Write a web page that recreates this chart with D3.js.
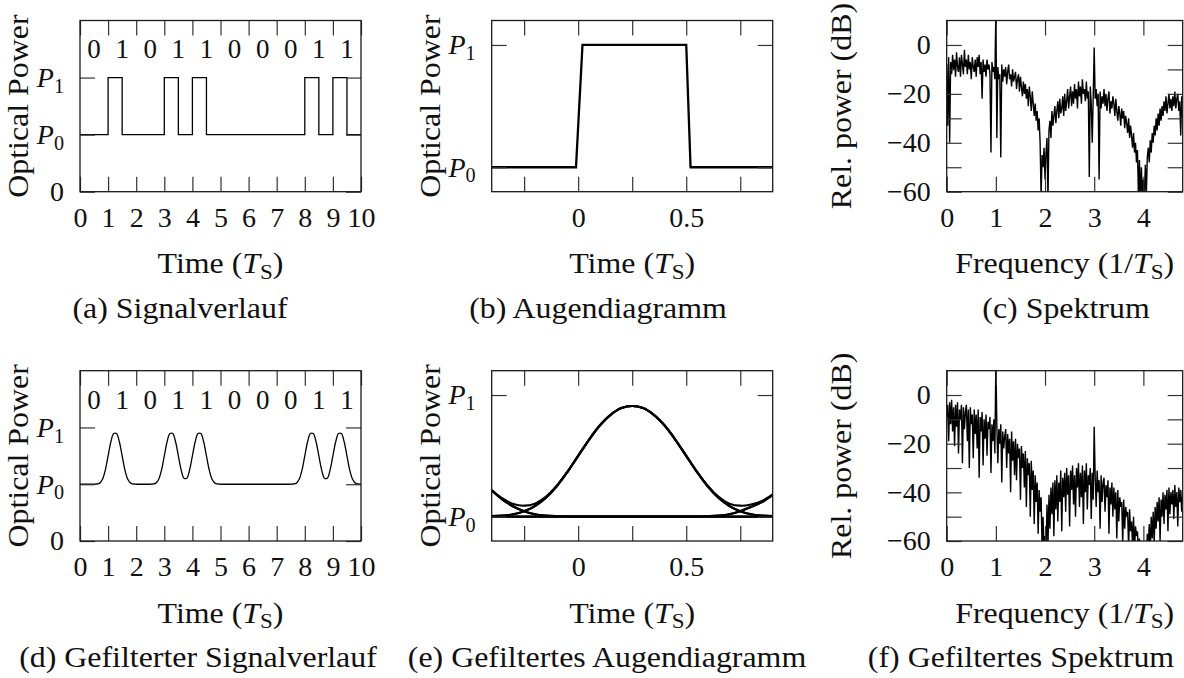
<!DOCTYPE html>
<html>
<head>
<meta charset="utf-8">
<script src="https://cdn.jsdelivr.net/npm/d3@7"></script>
<style>
  body { margin: 0; background: #fff; }
  svg { display: block; }
  text { font-family: "Liberation Serif", "Times New Roman", serif; fill: #111; }
  .axis text { font-size: 28px; fill: #111; }
  .axis line { stroke: #333; stroke-width: 1.2; }
</style>
</head>
<body>
<div id="figure"></div>
<script>
// ---- data ----
const bits = [0, 1, 0, 1, 1, 0, 0, 0, 1, 1]
const timeTicks = [0, 1, 2, 3, 4, 5, 6, 7, 8, 9, 10]
const powerTicks = [0, 1, 2]          // 0, P0, P1
const eyePowerTicks = [1, 2]          // P0, P1
const eyeTicks = [-0.25, 0, 0.25, 0.5, 0.75]
const eyeTickLabels = [0, 0.5]
const freqTicks = [0, 1, 2, 3, 4]
const dbTicks = [-60, -50, -40, -30, -20, -10, 0]
const dbTickLabels = [-60, -40, -20, 0]

// unfiltered eye: one RZ pulse (times in T_S, power in units of P0)
const rawEyeTime = [-0.4, -0.01, 0.02, 0.5, 0.52, 0.9]
const rawEyePower = [1, 1, 2, 2, 1, 1]

// filtered signal, sampled every 0.1 T_S from 0 to 10
const filteredStep = 0.1
const filteredPower = [
  1, 1, 1, 1, 1, 1, 1.004, 1.020, 1.087, 1.248,
  1.5, 1.749, 1.893, 1.893, 1.749, 1.5, 1.248, 1.087, 1.020, 1.004,
  1, 1, 1, 1, 1, 1, 1.004, 1.020, 1.087, 1.248,
  1.5, 1.749, 1.893, 1.893, 1.749, 1.5, 1.252, 1.107, 1.107, 1.252,
  1.5, 1.749, 1.893, 1.893, 1.749, 1.5, 1.248, 1.087, 1.020, 1.004,
  1, 1, 1, 1, 1, 1, 1, 1, 1, 1,
  1, 1, 1, 1, 1, 1, 1, 1, 1, 1,
  1, 1, 1, 1, 1, 1, 1.004, 1.020, 1.087, 1.248,
  1.5, 1.749, 1.893, 1.893, 1.749, 1.5, 1.252, 1.107, 1.107, 1.252,
  1.5, 1.749, 1.893, 1.893, 1.749, 1.5, 1.248, 1.087, 1.020, 1.004,
  1
]

// filtered eye: window -0.4 .. 0.9 T_S, every 0.05 T_S
const eyeStart = -0.4
const eyeStep = 0.05
const eyePulse = [
  0.004, 0.009, 0.020, 0.045, 0.087, 0.154, 0.248, 0.367, 0.5, 0.632,
  0.749, 0.837, 0.893, 0.91, 0.893, 0.837, 0.749, 0.632, 0.5, 0.367,
  0.248, 0.154, 0.087, 0.045, 0.020, 0.009, 0.004
]
const eyePrevTail = [
  0.215, 0.14, 0.084, 0.045, 0.020, 0.009, 0.004, 0.001, 0, 0,
  0, 0, 0, 0, 0, 0, 0, 0, 0, 0,
  0, 0, 0, 0, 0, 0, 0
]
const eyeNextTail = [
  0, 0, 0, 0, 0, 0, 0, 0, 0, 0,
  0, 0, 0, 0, 0, 0, 0, 0, 0, 0.001,
  0.004, 0.009, 0.020, 0.045, 0.080, 0.12, 0.18
]

// spectra in dB, every 0.02/T_S from 0 to 4.8
const freqStep = 0.02
const spectrumDb = [
  -8, -33, -5, -40, -7, -12, -4, -10, -6, -13,
  -3, -9, -11, -5, -13, -4, -8, -12, -2, -9,
  -6, -12, -4, -10, -7, -14, -5, -9, -11, -6,
  -13, -5, -9, -4, -12, -7, -22, -6, -11, -8,
  -13, -6, -10, -8, -12, -44, -7, -11, -9, -14,
  15, -38, -9, -14, -12, -46, -8, -15, -10, -13,
  -9, -16, -11, -8, -14, -12, -17, -10, -15, -13,
  -11, -18, -14, -12, -19, -13, -17, -21, -15, -20,
  -16, -22, -18, -25, -17, -21, -27, -19, -24, -29,
  -24, -31, -27, -35, -30, -40, -62, -45, -50, -42,
  -55, -44, -38, -63, -35, -31, -38, -27, -33, -29,
  -25, -32, -27, -23, -30, -22, -28, -26, -21, -29,
  -20, -27, -23, -18, -26, -21, -17, -25, -19, -24,
  -16, -22, -18, -26, -15, -21, -17, -24, -14, -20,
  -18, -23, -15, -22, -19, -54, -17, -24, -40, -21,
  -1, -22, -18, -25, -20, -55, -19, -26, -21, -24,
  -18, -25, -20, -27, -22, -19, -28, -23, -26, -21,
  -24, -29, -22, -27, -31, -25, -28, -33, -26, -30,
  -27, -34, -29, -32, -36, -30, -38, -33, -37, -42,
  -36, -44, -40, -48, -43, -62, -47, -64, -50, -61,
  -55, -63, -49, -61, -46, -42, -48, -39, -44, -36,
  -40, -33, -37, -30, -35, -28, -33, -26, -31, -25,
  -29, -23, -27, -21, -28, -24, -20, -26, -22, -27,
  -21, -25, -19, -26, -22, -20, -27, -23, -37, -21,
  -24
]
const filteredSpectrumDb = [
  -9, -4, -19, -3, -12, -2, -15, -5, -21, -4,
  -13, -3, -24, -6, -10, -4, -28, -5, -14, -7,
  -4, -19, -6, -30, -5, -12, -8, -26, -6, -16,
  -8, -22, -6, -34, -9, -15, -7, -29, -10, -18,
  -8, -25, -11, -14, -9, -32, -12, -19, -10, -24,
  15, -13, -28, -14, -20, -12, -36, -15, -22, -17,
  -14, -30, -16, -24, -18, -40, -15, -27, -19, -33,
  -18, -35, -20, -26, -22, -43, -21, -30, -24, -38,
  -23, -46, -26, -33, -28, -50, -27, -39, -31, -53,
  -33, -44, -36, -57, -39, -48, -42, -63, -50, -65,
  -58, -64, -45, -62, -41, -55, -38, -49, -36, -58,
  -35, -47, -33, -52, -36, -44, -31, -56, -34, -42,
  -32, -48, -30, -41, -33, -54, -31, -39, -29, -45,
  -33, -50, -30, -38, -28, -46, -32, -42, -29, -53,
  -31, -40, -28, -47, -33, -37, -30, -51, -32, -43,
  -13, -34, -46, -31, -40, -35, -55, -33, -44, -36,
  -34, -48, -37, -42, -35, -57, -38, -45, -36, -50,
  -38, -47, -40, -59, -39, -52, -42, -46, -44, -61,
  -43, -55, -46, -50, -48, -63, -47, -56, -52, -62,
  -50, -64, -54, -58, -56, -66, -59, -63, -62, -70,
  -67, -65, -61, -68, -57, -62, -53, -64, -50, -59,
  -48, -61, -46, -55, -44, -52, -42, -60, -43, -50,
  -40, -53, -41, -47, -39, -56, -38, -49, -40, -45,
  -39, -51, -37, -46, -40, -54, -38, -44, -39, -48,
  -41
]

// ---- layout ----
const FS = 29            // label font size
const STRETCH = 1.1      // widen Liberation Serif toward Computer Modern widths
const TICK = 15

const cols = [
  { left: 80, right: 361 },
  { left: 491.7, right: 772.7 },
  { left: 946.7, right: 1182.7 }
]
const rows = [
  { top: 20.5, bottom: 191.7 },
  { top: 370.7, bottom: 541 }
]

const svg = d3.select("#figure").append("svg")
  .attr("width", 1184)
  .attr("height", 678)

// text with italic parts and subscripts
function richText(sel, parts, fs) {
  parts.forEach(p => {
    const ts = sel.append("tspan").text(p.t)
    if (p.it) ts.attr("font-style", "italic")
    if (p.sub) ts.attr("font-size", fs * 0.72).attr("dy", fs * 0.2)
    if (p.back) ts.attr("dy", -fs * 0.2)
  })
}

function wordLabel(x, y, parts, rotate) {
  const t = svg.append("text")
    .attr("transform", `translate(${x},${y})${rotate ? " rotate(-90)" : ""} scale(${STRETCH},1)`)
    .attr("text-anchor", "middle")
    .attr("font-size", FS)
  richText(t, parts, FS)
}

const timeLabel = [{ t: "Time (" }, { t: "T", it: 1 }, { t: "S", sub: 1 }, { t: ")", back: 1 }]
const freqLabel = [{ t: "Frequency (1/" }, { t: "T", it: 1 }, { t: "S", sub: 1 }, { t: ")", back: 1 }]
const powerLabel = [{ t: "Optical Power" }]
const dbLabel = [{ t: "Rel. power (dB)" }]
const pLabels = {
  1: [{ t: "P", it: 1 }, { t: "0", sub: 1 }],
  2: [{ t: "P", it: 1 }, { t: "1", sub: 1 }]
}

function panel(p) {
  const w = p.box.right - p.box.left
  const h = p.box.bottom - p.box.top
  const x = p.x.copy().range([0, w])
  const y = p.y.copy().range([h, 0])

  const g = svg.append("g")
    .attr("transform", `translate(${p.box.left},${p.box.top})`)

  const clipId = "clip-" + p.id
  g.append("clipPath").attr("id", clipId)
    .append("rect").attr("width", w).attr("height", h)

  const plot = g.append("g").attr("clip-path", `url(#${clipId})`)
  p.draw(plot, x, y)

  // inward ticks on all four sides
  g.append("g").attr("class", "axis")
    .attr("transform", `translate(0,${h})`)
    .call(d3.axisBottom(x).tickValues(p.xTicks).tickSize(-TICK).tickPadding(15).tickFormat(p.xFormat))
  g.append("g").attr("class", "axis")
    .call(d3.axisTop(x).tickValues(p.xTicks).tickSize(-TICK).tickFormat(""))
  const yAxis = g.append("g").attr("class", "axis")
    .call(d3.axisLeft(y).tickValues(p.yTicks).tickSize(-TICK).tickPadding(16).tickFormat(p.yFormat))
  g.append("g").attr("class", "axis")
    .attr("transform", `translate(${w},0)`)
    .call(d3.axisRight(y).tickValues(p.yTicks).tickSize(-TICK).tickFormat(""))

  g.selectAll(".axis .domain").remove()
  g.selectAll(".axis").attr("font-size", null).attr("font-family", null)

  yAxis.selectAll(".tick text").each(function (d) {
    if (p.yParts && p.yParts[d]) {
      const t = d3.select(this).text(null)
      richText(t, p.yParts[d], 28)
    }
  })

  g.append("rect")
    .attr("width", w).attr("height", h)
    .attr("fill", "none")
    .attr("stroke", "#1a1a1a")
    .attr("stroke-width", 1.3)

  // axis titles and caption
  const cx = p.box.left + w / 2
  wordLabel(cx, p.box.bottom + 81.5, p.xLabel, false)
  wordLabel(p.box.left - p.yLabelOffset, p.box.top + h / 2, p.yLabel, true)
  wordLabel(p.captionX, p.box.bottom + 126, [{ t: p.caption }], false)
}

const fmtNum = d3.format("")
const powerFormat = d => (d === 0 ? "0" : "")

// signal: RZ pulses built from the bits
const rzPoints = []
bits.forEach((b, k) => {
  rzPoints.push([k, b ? 2 : 1])
  rzPoints.push([k + 0.5, 1])
})
rzPoints.push([10, 1])

function bitLabels(plot, x, y) {
  plot.selectAll("text.bit")
    .data(bits)
    .join("text")
      .attr("class", "bit")
      .attr("x", (d, i) => x(i + 0.5))
      .attr("y", y(2.5))
      .attr("dy", "0.35em")
      .attr("text-anchor", "middle")
      .attr("font-size", 27)
      .text(d => d)
}

function eyeTrace(extra) {
  return eyePulse.map((v, i) => [eyeStart + i * eyeStep, 1 + extra(i)])
}

// (a) Signalverlauf
panel({
  id: "a", box: { ...cols[0], ...rows[0] },
  x: d3.scaleLinear().domain([0, 10]), y: d3.scaleLinear().domain([0, 3]),
  xTicks: timeTicks, yTicks: powerTicks, xFormat: fmtNum, yFormat: powerFormat, yParts: pLabels,
  xLabel: timeLabel, yLabel: powerLabel, yLabelOffset: 51.7,
  caption: "(a) Signalverlauf", captionX: 180,
  draw: (plot, x, y) => {
    plot.append("path")
      .attr("d", d3.line().x(d => x(d[0])).y(d => y(d[1])).curve(d3.curveStepAfter)(rzPoints))
      .attr("fill", "none").attr("stroke", "#000").attr("stroke-width", 1.3)
    bitLabels(plot, x, y)
  }
})

// (b) Augendiagramm
panel({
  id: "b", box: { ...cols[1], ...rows[0] },
  x: d3.scaleLinear().domain([-0.4, 0.9]), y: d3.scaleLinear().domain([0.8, 2.2]),
  xTicks: eyeTicks, yTicks: eyePowerTicks,
  xFormat: d => (eyeTickLabels.includes(d) ? fmtNum(d) : ""), yFormat: () => "", yParts: pLabels,
  xLabel: timeLabel, yLabel: powerLabel, yLabelOffset: 51.7,
  caption: "(b) Augendiagramm", captionX: 598,
  draw: (plot, x, y) => {
    plot.append("path")
      .attr("d", d3.line().x((d, i) => x(rawEyeTime[i])).y(d => y(d))(rawEyePower))
      .attr("fill", "none").attr("stroke", "#000").attr("stroke-width", 2.3)
  }
})

function spectrumDraw(values) {
  return (plot, x, y) => {
    plot.append("path")
      .attr("d", d3.line().x((d, i) => x(i * freqStep)).y(d => y(d))(values))
      .attr("fill", "none").attr("stroke", "#000").attr("stroke-width", 1.4)
  }
}

// (c) Spektrum
panel({
  id: "c", box: { ...cols[2], ...rows[0] },
  x: d3.scaleLinear().domain([0, 4.8]), y: d3.scaleLinear().domain([-60, 10]),
  xTicks: freqTicks, yTicks: dbTicks,
  xFormat: fmtNum, yFormat: d => (dbTickLabels.includes(d) ? fmtNum(d) : ""),
  xLabel: freqLabel, yLabel: dbLabel, yLabelOffset: 95.7,
  caption: "(c) Spektrum", captionX: 1066,
  draw: spectrumDraw(spectrumDb)
})

// (d) Gefilterter Signalverlauf
panel({
  id: "d", box: { ...cols[0], ...rows[1] },
  x: d3.scaleLinear().domain([0, 10]), y: d3.scaleLinear().domain([0, 3]),
  xTicks: timeTicks, yTicks: powerTicks, xFormat: fmtNum, yFormat: powerFormat, yParts: pLabels,
  xLabel: timeLabel, yLabel: powerLabel, yLabelOffset: 51.7,
  caption: "(d) Gefilterter Signalverlauf", captionX: 198,
  draw: (plot, x, y) => {
    plot.append("path")
      .attr("d", d3.line().x((d, i) => x(i * filteredStep)).y(d => y(d))
        .curve(d3.curveCatmullRom.alpha(0.5))(filteredPower))
      .attr("fill", "none").attr("stroke", "#000").attr("stroke-width", 1.3)
    bitLabels(plot, x, y)
  }
})

// (e) Gefiltertes Augendiagramm
const eyeTraces = [
  eyeTrace(i => eyePulse[i]),                                  // 0 1 0
  eyeTrace(i => eyePulse[i] + eyePrevTail[i]),                 // 1 1 0
  eyeTrace(i => eyePulse[i] + eyeNextTail[i]),                 // 0 1 1
  eyeTrace(i => eyePrevTail[i] + eyeNextTail[i]),              // 1 0 1
  eyeTrace(i => eyePrevTail[i]),                               // 1 0 0
  eyeTrace(i => eyeNextTail[i]),                               // 0 0 1
  eyeTrace(i => 0)                                             // 0 0 0
]
panel({
  id: "e", box: { ...cols[1], ...rows[1] },
  x: d3.scaleLinear().domain([-0.4, 0.9]), y: d3.scaleLinear().domain([0.8, 2.2]),
  xTicks: eyeTicks, yTicks: eyePowerTicks,
  xFormat: d => (eyeTickLabels.includes(d) ? fmtNum(d) : ""), yFormat: () => "", yParts: pLabels,
  xLabel: timeLabel, yLabel: powerLabel, yLabelOffset: 51.7,
  caption: "(e) Gefiltertes Augendiagramm", captionX: 607,
  draw: (plot, x, y) => {
    const line = d3.line().x(d => x(d[0])).y(d => y(d[1])).curve(d3.curveCatmullRom.alpha(0.5))
    plot.selectAll("path.trace")
      .data(eyeTraces)
      .join("path")
        .attr("class", "trace")
        .attr("d", line)
        .attr("fill", "none").attr("stroke", "#000").attr("stroke-width", 2.2)
  }
})

// (f) Gefiltertes Spektrum
panel({
  id: "f", box: { ...cols[2], ...rows[1] },
  x: d3.scaleLinear().domain([0, 4.8]), y: d3.scaleLinear().domain([-60, 10]),
  xTicks: freqTicks, yTicks: dbTicks,
  xFormat: fmtNum, yFormat: d => (dbTickLabels.includes(d) ? fmtNum(d) : ""),
  xLabel: freqLabel, yLabel: dbLabel, yLabelOffset: 95.7,
  caption: "(f) Gefiltertes Spektrum", captionX: 1021,
  draw: spectrumDraw(filteredSpectrumDb)
})
</script>
</body>
</html>
